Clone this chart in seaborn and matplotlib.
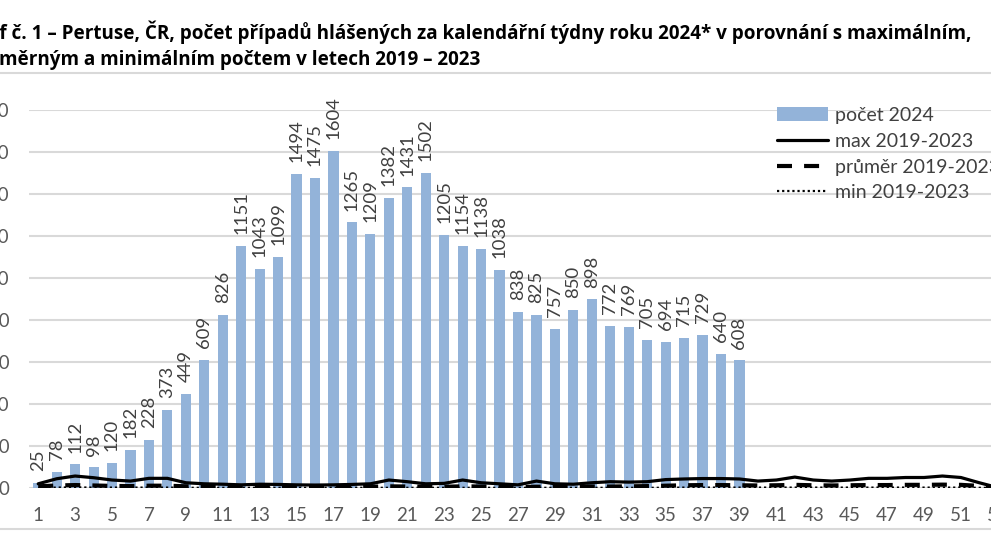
import pandas as pd
import matplotlib.pyplot as plt
import seaborn as sns
from matplotlib.lines import Line2D
from matplotlib.patches import Patch

# pertussis cases per calendar week 2024 vs. 2019-2023 reference
weeks_2024 = list(range(1, 40))
cases_2024 = [25, 78, 112, 98, 120, 182, 228, 373, 449, 609, 826, 1151, 1043, 1099,
              1494, 1475, 1604, 1265, 1209, 1382, 1431, 1502, 1205, 1154, 1138, 1038,
              838, 825, 757, 850, 898, 772, 769, 705, 694, 715, 729, 640, 608]

weeks_all = list(range(1, 54))
max_1923 = [20, 44, 57, 49, 38, 33, 46, 46, 25, 20, 18, 15, 18, 17, 15, 14, 15, 17, 20, 38,
            30, 20, 22, 38, 25, 20, 15, 33, 20, 18, 25, 30, 28, 30, 40, 43, 45, 45, 43, 33,
            38, 52, 38, 33, 38, 46, 46, 50, 50, 57, 50, 25, 2]
mean_1923 = [8, 12, 14, 12, 10, 9, 11, 11, 8, 6, 5, 5, 5, 5, 5, 5, 5, 5, 6, 8,
             7, 6, 6, 8, 7, 6, 5, 6, 6, 6, 7, 7, 8, 9, 11, 13, 14, 14, 13, 12,
             13, 15, 13, 12, 13, 14, 14, 15, 15, 16, 15, 10, 1]
min_1923 = [1, 2, 3, 2, 2, 2, 2, 2, 1, 1, 1, 1, 1, 1, 1, 1, 1, 1, 1, 1,
            1, 1, 1, 1, 1, 1, 1, 1, 1, 1, 1, 1, 1, 1, 1, 2, 2, 2, 2, 2,
            2, 2, 2, 2, 2, 2, 2, 2, 2, 2, 2, 1, 0]

y_ticks = list(range(0, 2000, 200))
x_ticks = list(range(1, 54, 2))
legend_labels = ["počet 2024", "max 2019-2023", "průměr 2019-2023", "min 2019-2023"]
title_1 = ("Graf č. 1 – Pertuse, ČR, počet případů hlášených za kalendářní týdny roku 2024* "
           "v porovnání s maximálním,")
title_2 = "průměrným a minimálním počtem v letech 2019 – 2023"

bar_color = "#93B3D9"
grid_color = "#D9D9D9"
text_color = "#404040"

sns.set_style("white")
plt.rcParams['font.family'] = ['Lato', 'DejaVu Sans']

df_bars = pd.DataFrame({"week": weeks_2024, "cases": cases_2024})
df_lines = pd.DataFrame({"week": weeks_all, "max": max_1923,
                         "mean": mean_1923, "min": min_1923})

fig = plt.figure(figsize=(9.91, 5.58), dpi=100)
ax = fig.add_axes([29 / 991, 70 / 558, 978 / 991, 378 / 558])

sns.barplot(data=df_bars, x="week", y="cases", native_scale=True, width=0.55,
            color=bar_color, saturation=1, linewidth=0, ax=ax)
ax.bar_label(ax.containers[0], rotation=90, padding=8.5, fontsize=13.3, color=text_color)

sns.lineplot(data=df_lines, x="week", y="max", color="black", lw=2.3, ax=ax)
sns.lineplot(data=df_lines, x="week", y="mean", color="black", lw=3,
             linestyle=(0, (3.6, 2.9)), ax=ax)
sns.lineplot(data=df_lines, x="week", y="min", color="black", lw=1.6,
             linestyle=(0, (1, 1.3)), ax=ax)

ax.set_xlim(0.5, 53.5)
ax.set_ylim(0, 1800)
ax.set_xticks(x_ticks)
ax.set_xticklabels([str(w) for w in x_ticks])
ax.set_yticks(y_ticks)
ax.set_yticklabels([str(v) for v in y_ticks])
ax.set_xlabel("")
ax.set_ylabel("")
ax.grid(axis="y", color=grid_color, lw=1.5)
ax.set_axisbelow(True)
for s in ax.spines.values():
    s.set_visible(False)
ax.tick_params(length=0, labelsize=13.5, labelcolor="#595959")
ax.tick_params(axis="y", pad=14)
ax.tick_params(axis="x", pad=14)

handles = [Patch(facecolor=bar_color, edgecolor="none"),
           Line2D([], [], color="black", lw=2.3),
           Line2D([], [], color="black", lw=3, linestyle=(0, (3.6, 2.9))),
           Line2D([], [], color="black", lw=1.6, linestyle=(0, (1, 1.3)))]
fig.legend(handles, legend_labels, loc="upper left", bbox_to_anchor=(777 / 991, 1 - 107 / 558),
           bbox_transform=fig.transFigure, frameon=False, fontsize=14, labelcolor=text_color,
           handlelength=2.6, handletextpad=0.4, labelspacing=0.45, borderpad=0, borderaxespad=0)

title_font = ['Open Sans', 'DejaVu Sans']
fig.text(-34 / 991, 1 - 39 / 558, title_1, fontsize=13.55, fontweight="bold", color="black",
         ha="left", va="baseline", family=title_font)
fig.text(-34 / 991, 1 - 65 / 558, title_2, fontsize=13.55, fontweight="bold", color="black",
         ha="left", va="baseline", family=title_font)

# frame lines of the chart area
fig.add_artist(Line2D([0, 1], [1 - 73 / 558, 1 - 73 / 558], color=grid_color, lw=1.5))
fig.add_artist(Line2D([0, 1], [1 - 529 / 558, 1 - 529 / 558], color=grid_color, lw=1.5))

fig.savefig("out.png", dpi=100)
